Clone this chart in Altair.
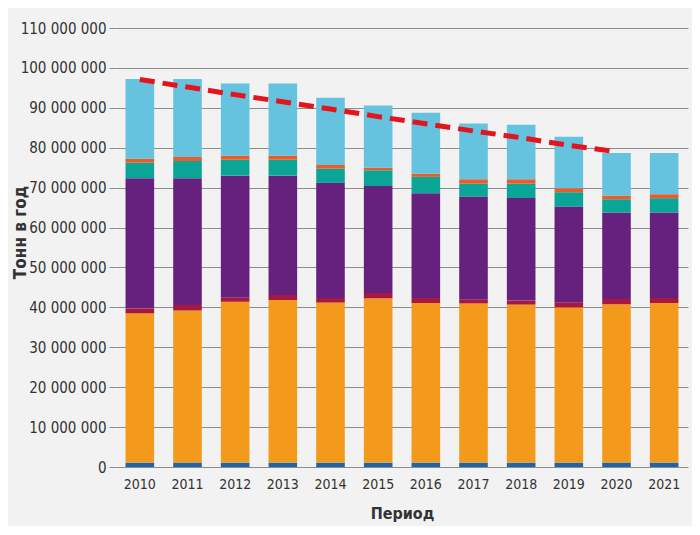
import altair as alt
import pandas as pd

years = ["2010", "2011", "2012", "2013", "2014", "2015", "2016", "2017", "2018", "2019", "2020", "2021"]

# stacked segments, bottom to top (million tonnes)
s_blue      = [1.1, 1.1, 1.1, 1.1, 1.1, 1.1, 1.1, 1.1, 1.1, 1.1, 1.1, 1.1]
s_orange    = [37.4, 38.1, 40.3, 40.75, 40.1, 41.15, 40.0, 39.9, 39.6, 38.9, 39.65, 40.0]
s_darkred   = [1.25, 1.4, 1.1, 1.25, 1.15, 1.35, 1.25, 1.0, 1.0, 1.25, 1.35, 1.25]
s_purple    = [32.6, 31.75, 30.5, 29.9, 28.85, 26.8, 26.25, 25.75, 25.7, 24.0, 21.65, 21.4]
s_teal      = [3.9, 4.35, 4.0, 4.0, 3.55, 3.95, 4.1, 3.25, 3.6, 3.6, 3.35, 3.6]
s_orangered = [1.0, 1.0, 1.0, 1.0, 0.95, 0.65, 0.8, 1.1, 1.1, 1.0, 0.9, 1.0]
s_lightblue = [20.0, 19.55, 18.1, 18.1, 16.8, 15.6, 15.25, 14.0, 13.65, 12.9, 10.7, 10.35]

series_names = ["Категория 1", "Категория 2", "Категория 3", "Категория 4",
                "Категория 5", "Категория 6", "Категория 7"]
series_values = [s_blue, s_orange, s_darkred, s_purple, s_teal, s_orangered, s_lightblue]
series_colors = ["#1f64a8", "#f39a1c", "#a8173f", "#66217f", "#0aa596", "#e85e28", "#66c3e0"]

trend_years = ["2010", "2011", "2012", "2013", "2014", "2015", "2016", "2017", "2018", "2019", "2020"]
trend_values = [97.1, 95.2, 93.3, 91.5, 89.7, 87.8, 86.0, 84.2, 82.5, 80.6, 79.0]

y_ticks = [0, 10, 20, 30, 40, 50, 60, 70, 80, 90, 100, 110]

rows = []
for i, (name, vals) in enumerate(zip(series_names, series_values)):
    for y, v in zip(years, vals):
        rows.append({"year": y, "series": name, "order": i, "value": v * 1_000_000})
df = pd.DataFrame(rows)

trend_df = pd.DataFrame({"year": trend_years, "value": [v * 1_000_000 for v in trend_values]})

label_font = "'DejaVu Sans Condensed', Roboto, sans-serif"

x_enc = alt.X(
    "year:N",
    sort=years,
    scale=alt.Scale(paddingInner=0.4, paddingOuter=0.2),
    axis=alt.Axis(
        title="Период",
        labelAngle=0,
        domain=False,
        ticks=False,
        labelPadding=10,
        labelFontSize=14,
        titlePadding=14,
        titleFontSize=16,
    ),
)

y_axis = alt.Axis(
    title="Тонн в год",
    values=[t * 1_000_000 for t in y_ticks],
    labelExpr="replace(format(datum.value, ','), /,/g, ' ')",
    labelOverlap=False,
    domain=False,
    ticks=True,
    tickSize=7,
    labelPadding=3,
    labelFontSize=15,
    titleFontSize=17,
    titleX=-96,
    titleY=204,
    titleBaseline="middle",
    titleAlign="center",
)

y_scale = alt.Scale(domain=[0, 110_000_000], nice=False)

bars = alt.Chart(df).mark_bar().encode(
    x=x_enc,
    y=alt.Y("value:Q", stack="zero", scale=y_scale, axis=y_axis),
    color=alt.Color(
        "series:N",
        scale=alt.Scale(domain=series_names, range=series_colors),
        legend=None,
    ),
    order=alt.Order("order:Q", sort="ascending"),
)

trend = alt.Chart(trend_df).mark_line(
    color="#e3141c", strokeWidth=5, strokeDash=[15, 8]
).encode(
    x=x_enc,
    y=alt.Y("value:Q", scale=y_scale, axis=y_axis),
)

chart = alt.layer(bars, trend).properties(
    width=572,
    height=439,
    background="#f2f2f2",
    padding={"left": 108, "top": 20, "right": 4, "bottom": 59},
    autosize=alt.AutoSizeParams(type="none"),
).configure_view(
    stroke=None
).configure_axis(
    labelFont=label_font,
    labelColor="#333333",
    titleFont=label_font,
    titleFontWeight="bold",
    titleColor="#333333",
    gridColor="#8c8c8c",
    gridWidth=1,
    tickColor="#8c8c8c",
)

chart.save("out.html", embed_options={"renderer": "svg", "actions": False})
